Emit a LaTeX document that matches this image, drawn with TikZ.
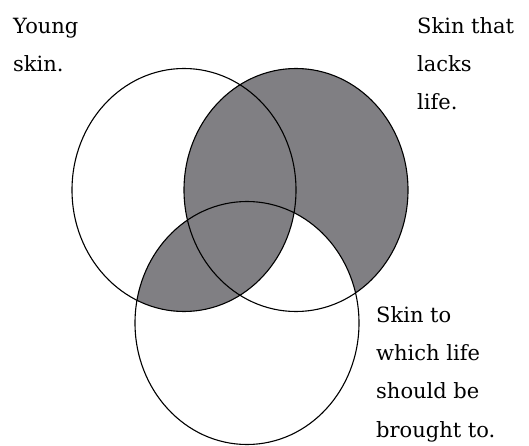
\documentclass[tikz,border=0pt]{standalone}
\usepackage{fontspec}
\setmainfont{DejaVu Serif}
\usepackage{tikz}
\usetikzlibrary{positioning}
\definecolor{venngray}{RGB}{128,127,131}

\begin{document}
\begin{tikzpicture}[x=1pt, y=-1pt]
    \tikzstyle{note} = [align=left, inner sep=0pt, anchor=base west, font=\fontsize{21}{38.3}\selectfont]
    \tikzstyle{ring} = [draw, line width=1.1pt]
    \tikzstyle{size} = [x radius=112, y radius=121.5]

    \useasboundingbox (0,0) rectangle (529,446);

    \coordinate (young) at (184,190);
    \coordinate (lacks) at (296,190);
    \coordinate (brought) at (247,323);

    \fill [venngray] (lacks) ellipse [size];
    \fill [white] (brought) ellipse [size];
    \begin{scope}
        \clip (young) ellipse [size];
        \fill [venngray] (brought) ellipse [size];
    \end{scope}

    \draw [ring] (young) ellipse [size];
    \draw [ring] (lacks) ellipse [size];
    \draw [ring] (brought) ellipse [size];

    % base anchor sits on the last line
    \node [note] (t-young) at (13,72) {Young\\skin.};
    \node [note] (t-lacks) at (417,110) {Skin that\\lacks\\life.};
    \node [note] (t-brought) at (376,437) {Skin to\\which life\\should be\\brought to.};
\end{tikzpicture}
\end{document}
